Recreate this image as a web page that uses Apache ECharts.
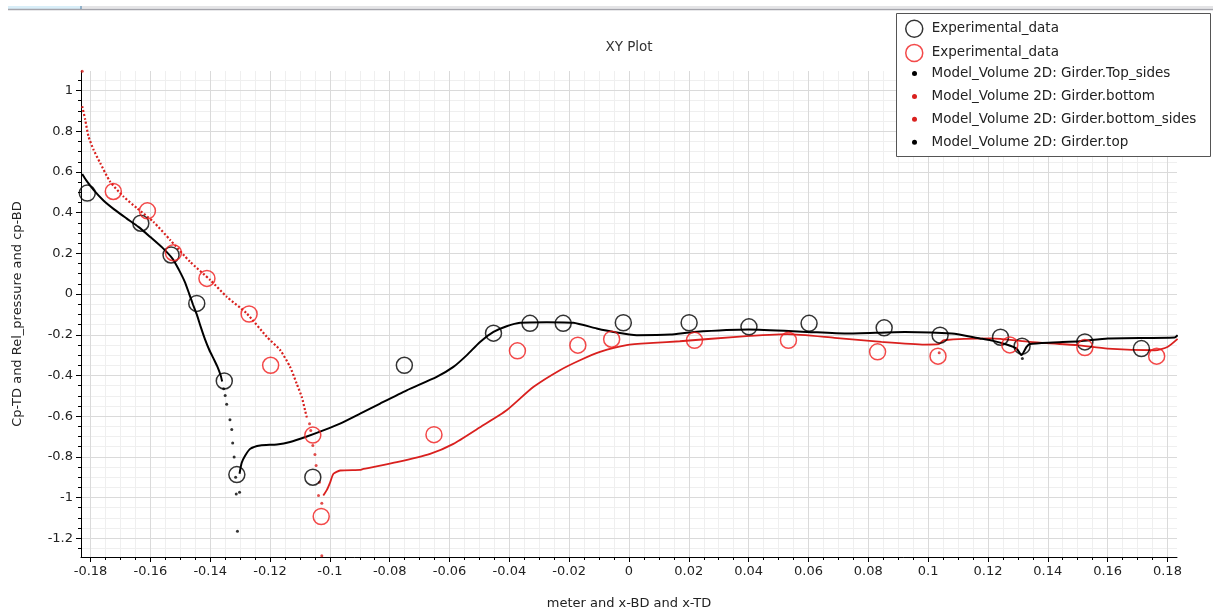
<!DOCTYPE html>
<html>
<head>
<meta charset="utf-8">
<script src="https://cdn.jsdelivr.net/npm/echarts@6/dist/echarts.min.js"></script>
<style>
  html, body { margin: 0; padding: 0; background: #fff; }
  #chart { width: 1213px; height: 616px; }
</style>
</head>
<body>
<div id="chart"></div>
<script>
// ---- Measured pressure coefficients [x (m), Cp] ----
const expBlack = [
  [-0.1811, 0.496], [-0.1632, 0.348], [-0.1531, 0.192], [-0.1445, -0.046],
  [-0.1353, -0.427], [-0.1311, -0.887], [-0.1057, -0.900], [-0.0751, -0.350],
  [-0.0453, -0.192], [-0.0331, -0.144], [-0.0220, -0.144], [-0.0019, -0.141],
  [0.0201, -0.141], [0.0401, -0.161], [0.0602, -0.144], [0.0853, -0.166],
  [0.1040, -0.202], [0.1242, -0.212], [0.1314, -0.256], [0.1524, -0.235],
  [0.1713, -0.268]
];
const expRed = [
  [-0.1724, 0.504], [-0.1610, 0.409], [-0.1523, 0.203], [-0.1411, 0.077],
  [-0.1270, -0.098], [-0.1198, -0.350], [-0.1057, -0.693], [-0.1029, -1.093],
  [-0.0652, -0.691], [-0.0373, -0.279], [-0.0171, -0.251], [-0.0058, -0.222],
  [0.0219, -0.227], [0.0533, -0.227], [0.0831, -0.284], [0.1033, -0.305],
  [0.1273, -0.250], [0.1524, -0.263], [0.1764, -0.305]
];

// ---- Simulated surface pressure, Model_Volume 2D ----
// Girder.Top_sides: dense part followed by the sparse samples on the steep edge
const topSidesLine = [
  [-0.1828, 0.590], [-0.1815, 0.560], [-0.1790, 0.512], [-0.1757, 0.460],
  [-0.1720, 0.415], [-0.1680, 0.372], [-0.1640, 0.330], [-0.1600, 0.280],
  [-0.1560, 0.228], [-0.1525, 0.172], [-0.1505, 0.120], [-0.1485, 0.060],
  [-0.1470, 0.000], [-0.1458, -0.050], [-0.1445, -0.100], [-0.1432, -0.160],
  [-0.1418, -0.220], [-0.1403, -0.275], [-0.1388, -0.320], [-0.1375, -0.360],
  [-0.1365, -0.400], [-0.1360, -0.430]
];
const topSidesDots = [
  [-0.1355, -0.465], [-0.1350, -0.498], [-0.1345, -0.542], [-0.1334, -0.617],
  [-0.1328, -0.665], [-0.1325, -0.732], [-0.1320, -0.801], [-0.1315, -0.900],
  [-0.1313, -0.982], [-0.1302, -0.974], [-0.1309, -1.166], [0.1315, -0.317]
];
// Girder.top
const topLine = [
  [-0.1302, -0.883], [-0.1295, -0.830], [-0.1283, -0.793], [-0.1266, -0.760],
  [-0.1233, -0.744], [-0.1177, -0.739], [-0.1133, -0.727], [-0.1077, -0.700],
  [-0.1022, -0.670], [-0.0966, -0.637], [-0.0899, -0.588], [-0.0832, -0.538],
  [-0.0743, -0.473], [-0.0643, -0.407], [-0.0587, -0.358], [-0.0542, -0.300],
  [-0.0498, -0.235], [-0.0453, -0.186], [-0.0409, -0.158], [-0.0364, -0.141],
  [-0.0275, -0.138], [-0.0186, -0.141], [-0.0108, -0.169], [-0.0052, -0.186],
  [0.0026, -0.202], [0.0138, -0.199], [0.0217, -0.186], [0.0400, -0.174],
  [0.0596, -0.186], [0.0726, -0.194], [0.0922, -0.186], [0.1079, -0.194],
  [0.1173, -0.218], [0.1218, -0.230], [0.1262, -0.248], [0.1296, -0.268],
  [0.1312, -0.300], [0.1329, -0.260], [0.1340, -0.245], [0.1418, -0.238],
  [0.1507, -0.232], [0.1601, -0.218], [0.1824, -0.213], [0.1834, -0.202]
];
// Girder.bottom_sides: dense dotted part, then sparse samples
const bottomSidesLine = [
  [-0.1828, 0.923], [-0.1818, 0.857], [-0.1807, 0.775], [-0.1790, 0.709],
  [-0.1768, 0.644], [-0.1735, 0.553], [-0.1690, 0.479], [-0.1645, 0.422],
  [-0.1590, 0.355], [-0.1534, 0.266], [-0.1467, 0.158], [-0.1400, 0.069],
  [-0.1345, -0.013], [-0.1278, -0.095], [-0.1211, -0.210], [-0.1166, -0.276],
  [-0.1133, -0.358], [-0.1111, -0.440], [-0.1094, -0.506], [-0.1083, -0.571],
  [-0.1077, -0.607]
];
const bottomSidesDots = [
  [-0.1828, 1.095], [-0.1068, -0.637], [-0.1064, -0.670], [-0.1057, -0.744],
  [-0.1050, -0.788], [-0.1046, -0.842], [-0.1035, -0.925], [-0.1038, -0.990],
  [-0.1027, -1.028], [-0.1027, -1.286], [0.1037, -0.288]
];
// Girder.bottom
const bottomLine = [
  [-0.1022, -0.990], [-0.1010, -0.962], [-0.0999, -0.925], [-0.0988, -0.883],
  [-0.0966, -0.867], [-0.0899, -0.864], [-0.0888, -0.859], [-0.0776, -0.826],
  [-0.0665, -0.785], [-0.0587, -0.736], [-0.0498, -0.654], [-0.0409, -0.571],
  [-0.0320, -0.457], [-0.0231, -0.374], [-0.0164, -0.325], [-0.0097, -0.284],
  [-0.0008, -0.251], [0.0081, -0.240], [0.0170, -0.232], [0.0360, -0.210],
  [0.0530, -0.197], [0.0687, -0.215], [0.0844, -0.235], [0.0988, -0.248],
  [0.1035, -0.246], [0.1053, -0.227], [0.1210, -0.218], [0.1340, -0.235],
  [0.1497, -0.251], [0.1600, -0.268], [0.1758, -0.276], [0.1800, -0.260],
  [0.1834, -0.220]
];

// ---- Axis ranges and tick spacing ----
const xRange = [-0.1832, 0.1832];
const yRange = [-1.292, 1.096];
const xMajor = { min: -0.18, max: 0.18, step: 0.02 };
const xMinor = { min: -0.18, max: 0.18, step: 0.005 };
const yMajor = { min: -1.2, max: 1.0, step: 0.2 };
const yMinor = { min: -1.25, max: 1.05, step: 0.05 };

// ---- Labels ----
const titleText = 'XY Plot';
const xName = 'meter and x-BD and x-TD';
const yName = 'Cp-TD and Rel_pressure and cp-BD';
const nameExpBlack = 'Experimental_data';
const nameExpRed = 'Experimental_data ';
const nameTopSides = 'Model_Volume 2D: Girder.Top_sides';
const nameBottom = 'Model_Volume 2D: Girder.bottom';
const nameBottomSides = 'Model_Volume 2D: Girder.bottom_sides';
const nameTop = 'Model_Volume 2D: Girder.top';

// ---- Layout ----
const W = 1213, H = 616;
const plot = { left: 81, top: 71, right: 1177, bottom: 557 };
const FONT = 'DejaVu Sans';
const BLACK = '#000000';
const RED_MARK = '#f01c1c';
const RED_LINE = '#d9201e';

const xPix = v => plot.left + (v - xRange[0]) / (xRange[1] - xRange[0]) * (plot.right - plot.left);
const yPix = v => plot.top + (yRange[1] - v) / (yRange[1] - yRange[0]) * (plot.bottom - plot.top);

function gridBox(x0, x1, y0, y1) {
  return { left: x0, top: y0, width: x1 - x0, height: y1 - y0, containLabel: false, outerBoundsMode: 'none' };
}

const grids = [
  gridBox(plot.left, plot.right, plot.top, plot.bottom),                 // data
  gridBox(xPix(xMajor.min), xPix(xMajor.max), plot.top, plot.bottom),    // x ticks
  gridBox(plot.left, plot.right, yPix(yMajor.max), yPix(yMajor.min)),    // y major ticks
  gridBox(plot.left, plot.right, yPix(yMinor.max), yPix(yMinor.min))     // y minor ticks
];

const labelStyle = { fontFamily: FONT, fontSize: 13, color: '#222' };
const majorGrid = { show: true, lineStyle: { color: '#dadada', width: 1 } };
const minorGrid = { show: true, lineStyle: { color: '#efefef', width: 1 } };
const hidden = i => ({ gridIndex: i, type: 'value', show: false, min: 0, max: 1 });

const xAxes = [
  {
    gridIndex: 0, type: 'value', position: 'bottom', min: xRange[0], max: xRange[1],
    name: xName, nameLocation: 'middle', nameGap: 40,
    nameTextStyle: { fontFamily: FONT, fontSize: 13, color: '#222' },
    axisLine: { show: true, onZero: false, lineStyle: { color: BLACK, width: 1 } },
    axisTick: { show: false }, axisLabel: { show: false }, splitLine: { show: false }, z: 3
  },
  {
    gridIndex: 1, type: 'value', position: 'bottom', min: xMinor.min, max: xMinor.max, interval: xMinor.step,
    axisLine: { show: false, onZero: false }, axisLabel: { show: false },
    axisTick: { show: true, length: 3, lineStyle: { color: BLACK } },
    splitLine: minorGrid, z: 0
  },
  {
    gridIndex: 1, type: 'value', position: 'bottom', min: xMajor.min, max: xMajor.max, interval: xMajor.step,
    axisLine: { show: false, onZero: false },
    axisLabel: Object.assign({ show: true, margin: 8 }, labelStyle),
    axisTick: { show: true, length: 5, lineStyle: { color: BLACK } },
    splitLine: majorGrid, z: 1
  },
  hidden(2), hidden(3)
];

const yAxes = [
  {
    gridIndex: 0, type: 'value', position: 'left', min: yRange[0], max: yRange[1],
    name: yName, nameLocation: 'middle', nameGap: 57, nameRotate: 90,
    nameTextStyle: { fontFamily: FONT, fontSize: 13, color: '#222' },
    axisLine: { show: true, onZero: false, lineStyle: { color: BLACK, width: 1 } },
    axisTick: { show: false }, axisLabel: { show: false }, splitLine: { show: false }, z: 3
  },
  hidden(1),
  {
    gridIndex: 2, type: 'value', position: 'left', min: yMajor.min, max: yMajor.max, interval: yMajor.step,
    axisLine: { show: false, onZero: false },
    axisLabel: Object.assign({ show: true, margin: 8 }, labelStyle),
    axisTick: { show: true, length: 5, lineStyle: { color: BLACK } },
    splitLine: majorGrid, z: 1
  },
  {
    gridIndex: 3, type: 'value', position: 'left', min: yMinor.min, max: yMinor.max, interval: yMinor.step,
    axisLine: { show: false, onZero: false }, axisLabel: { show: false },
    axisTick: { show: true, length: 3, lineStyle: { color: BLACK } },
    splitLine: minorGrid, z: 0
  }
];

function circles(name, data, color) {
  return {
    name, type: 'scatter', data, xAxisIndex: 0, yAxisIndex: 0,
    symbol: 'circle', symbolSize: 16, z: 5, silent: true,
    itemStyle: { color: 'rgba(0,0,0,0)', borderColor: color, borderWidth: 1.5 }
  };
}
function curve(name, data, color, width, type) {
  return {
    name, type: 'line', data, xAxisIndex: 0, yAxisIndex: 0,
    showSymbol: false, smooth: 0.2, z: 3, silent: true, color,
    lineStyle: { color, width, type: type || 'solid' }
  };
}
function dots(name, data, color) {
  return {
    name, type: 'scatter', data, xAxisIndex: 0, yAxisIndex: 0,
    symbol: 'circle', symbolSize: 3, z: 3, silent: true,
    itemStyle: { color }
  };
}

const series = [
  curve(nameTopSides, topSidesLine, BLACK, 2),
  dots(nameTopSides, topSidesDots, BLACK),
  curve(nameBottom, bottomLine, RED_LINE, 1.8),
  curve(nameBottomSides, bottomSidesLine, RED_LINE, 2.2, [2, 2]),
  dots(nameBottomSides, bottomSidesDots, RED_LINE),
  curve(nameTop, topLine, BLACK, 2),
  circles(nameExpBlack, expBlack, BLACK),
  circles(nameExpRed, expRed, RED_MARK)
];

const legendText = pad => ({ fontFamily: FONT, fontSize: 13.5, color: '#222', lineHeight: 17, padding: [0, 0, 0, pad] });
const legends = [
  {
    left: 905, top: 19.5, orient: 'vertical', selectedMode: false, z: 6, padding: 0,
    itemWidth: 17, itemHeight: 17, itemGap: 5.65,
    textStyle: legendText(4), formatter: n => n.trim(),
    data: [
      { name: nameExpBlack, icon: 'circle', itemStyle: { color: 'rgba(0,0,0,0)', borderColor: BLACK, borderWidth: 1.5 } },
      { name: nameExpRed, icon: 'circle', itemStyle: { color: 'rgba(0,0,0,0)', borderColor: RED_MARK, borderWidth: 1.5 } }
    ]
  },
  {
    left: 912, top: 65, orient: 'vertical', selectedMode: false, z: 6, padding: 0,
    itemWidth: 5, itemHeight: 17, itemGap: 5.9,
    textStyle: legendText(9.5),
    data: [
      { name: nameTopSides, icon: 'circle', itemStyle: { color: BLACK, borderWidth: 0 } },
      { name: nameBottom, icon: 'circle', itemStyle: { color: RED_LINE, borderWidth: 0 } },
      { name: nameBottomSides, icon: 'circle', itemStyle: { color: RED_LINE, borderWidth: 0 } },
      { name: nameTop, icon: 'circle', itemStyle: { color: BLACK, borderWidth: 0 } }
    ]
  }
];

const chart = echarts.init(document.getElementById('chart'), null, { renderer: 'canvas', width: W, height: H });
chart.setOption({
  animation: false,
  backgroundColor: '#ffffff',
  title: {
    text: titleText, left: (plot.left + plot.right) / 2, textAlign: 'center', top: 40, padding: 0,
    textStyle: { fontFamily: FONT, fontSize: 13.5, fontWeight: 'normal', color: '#333' }
  },
  grid: grids,
  xAxis: xAxes,
  yAxis: yAxes,
  legend: legends,
  graphic: [
    // window strip along the top edge
    { type: 'rect', z: 2, shape: { x: 8, y: 6, width: 73, height: 3 }, style: { fill: '#d9eef8' } },
    { type: 'rect', z: 2, shape: { x: 81, y: 6, width: W - 81, height: 2.5 }, style: { fill: '#e4e4e6' } },
    { type: 'rect', z: 2, shape: { x: 8, y: 8.7, width: W - 8, height: 1.6 }, style: { fill: '#a4a4ab' } },
    { type: 'rect', z: 2, shape: { x: 80.5, y: 6, width: 1, height: 3 }, style: { fill: '#4a7fa8' } },
    // legend frame
    { type: 'rect', z: 5, shape: { x: 896.5, y: 13.5, width: 314, height: 143 }, style: { fill: '#ffffff', stroke: '#555', lineWidth: 1 } }
  ],
  series
});
</script>
</body>
</html>
